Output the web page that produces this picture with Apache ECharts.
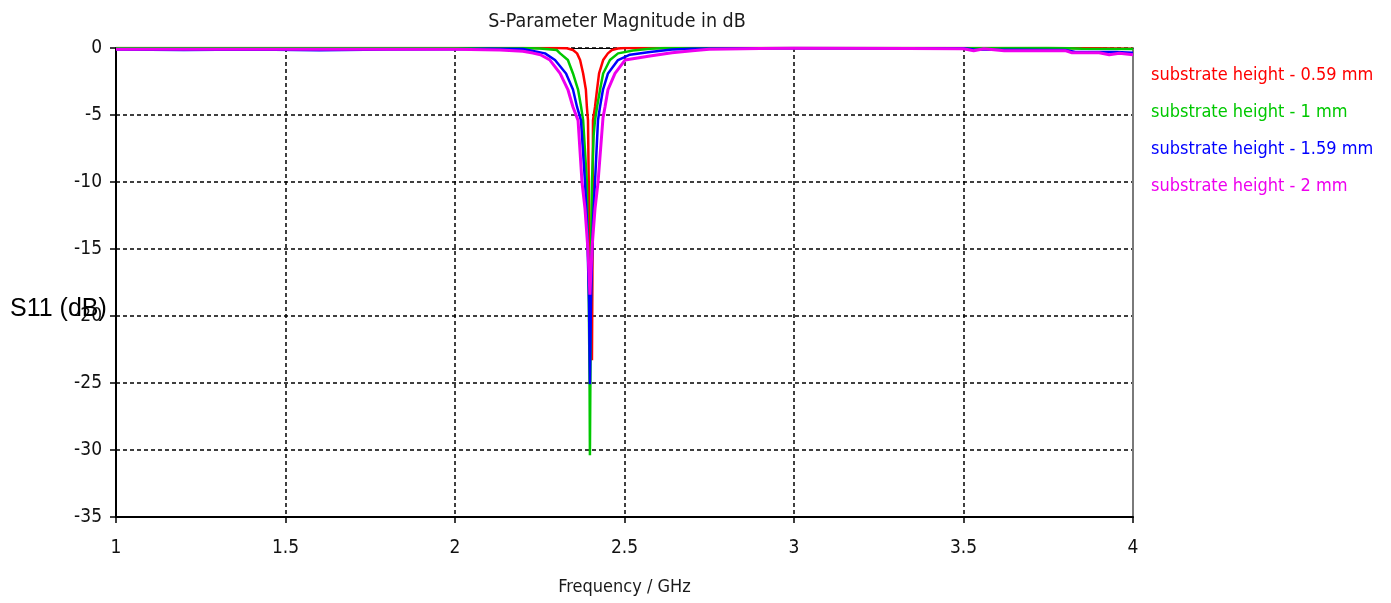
<!DOCTYPE html>
<html>
<head>
<meta charset="utf-8">
<title>S-Parameter Magnitude in dB</title>
<script src="https://cdn.jsdelivr.net/npm/echarts@6/dist/echarts.min.js"></script>
<style>
  html, body { margin: 0; padding: 0; background: #fff; }
  #chart { width: 1391px; height: 603px; }
</style>
</head>
<body>
<div id="chart"></div>
<script>
// S11 sweep results, [frequency GHz, magnitude dB], one array per substrate height
const seriesNames = [
  'substrate height - 0.59 mm',
  'substrate height - 1 mm',
  'substrate height - 1.59 mm',
  'substrate height - 2 mm'
];
const seriesColors = ['#ff0000', '#00c800', '#0000ff', '#ee00ee'];

const s11h059 = [
  [1.0, 0], [1.5, 0], [2.0, 0], [2.3, 0], [2.33, -0.02], [2.348, -0.15],
  [2.36, -0.4], [2.369, -0.9], [2.378, -1.9], [2.386, -3.1], [2.389, -4.4],
  [2.3923, -5.4], [2.395, -11], [2.400, -19], [2.404, -23.3], [2.406, -14],
  [2.407, -5.4], [2.413, -4.4], [2.419, -3.1], [2.425, -1.9], [2.437, -0.9],
  [2.451, -0.4], [2.463, -0.15], [2.48, -0.04], [2.5, 0], [3.0, 0],
  [3.5, 0], [3.9, -0.02], [4.0, -0.05]
];

const s11h100 = [
  [1.0, 0], [1.5, 0], [2.0, 0], [2.2, 0], [2.25, -0.03], [2.30, -0.15],
  [2.31, -0.4], [2.333, -0.9], [2.348, -1.9], [2.363, -3.1], [2.372, -4.4],
  [2.378, -5.4], [2.389, -10], [2.394, -17], [2.397, -25], [2.398, -30.4],
  [2.400, -22], [2.402, -14], [2.404, -10], [2.409, -6.5], [2.413, -5.4],
  [2.419, -4.4], [2.428, -3.1], [2.437, -1.9], [2.457, -0.9], [2.481, -0.4],
  [2.525, -0.18], [2.575, -0.05], [2.62, 0], [3.0, 0], [3.5, 0],
  [3.75, 0.04], [3.85, -0.05], [4.0, -0.08]
];

const s11h159 = [
  [1.0, -0.12], [1.2, -0.15], [1.4, -0.12], [1.6, -0.16], [1.8, -0.12],
  [2.0, -0.1], [2.1, -0.06], [2.2, -0.08], [2.23, -0.22], [2.2655, -0.4],
  [2.295, -0.9], [2.3275, -1.9], [2.348, -3.1], [2.36, -4.4], [2.3717, -5.4],
  [2.3835, -10], [2.3894, -13], [2.3953, -19], [2.398, -25.1], [2.401, -19],
  [2.407, -13], [2.413, -10], [2.4218, -5.4], [2.4277, -4.4], [2.4366, -3.1],
  [2.4513, -1.9], [2.4808, -0.9], [2.5162, -0.5], [2.575, -0.3], [2.64, -0.12],
  [2.7, -0.05], [3.0, 0], [3.5, -0.02], [3.53, -0.12], [3.8, -0.15],
  [3.83, -0.3], [3.95, -0.3], [4.0, -0.35]
];

const s11h200 = [
  [1.0, -0.1], [1.5, -0.1], [2.0, -0.1], [2.133, -0.15], [2.20, -0.25],
  [2.23, -0.38], [2.252, -0.5], [2.28, -0.9], [2.31, -1.9], [2.333, -3.1],
  [2.348, -4.4], [2.363, -5.4], [2.3746, -10], [2.3835, -12], [2.392, -15],
  [2.398, -18.4], [2.404, -15], [2.413, -12], [2.422, -10], [2.4366, -5.2],
  [2.4425, -4.4], [2.4513, -3.1], [2.472, -1.9], [2.5015, -0.9], [2.575, -0.6],
  [2.64, -0.35], [2.70, -0.2], [2.75, -0.1], [2.9, -0.03], [3.0, 0],
  [3.5, -0.05], [3.53, -0.2], [3.56, -0.05], [3.62, -0.2], [3.8, -0.2],
  [3.82, -0.35], [3.9, -0.35], [3.93, -0.5], [3.96, -0.4], [4.0, -0.5]
];

const seriesData = [s11h059, s11h100, s11h159, s11h200];
const seriesWidths = [2.5, 2.5, 2.5, 3];

const narrowFont = "'DejaVu Sans Condensed', 'Liberation Sans', sans-serif";
const gridDash = { color: '#000', width: 1.5, type: [4, 3] };

const chart = echarts.init(document.getElementById('chart'), null, { renderer: 'canvas' });

chart.setOption({
  animation: false,
  backgroundColor: '#fff',
  title: {
    text: 'S-Parameter Magnitude in dB',
    left: 612, top: 7, textAlign: 'center',
    textStyle: { fontFamily: narrowFont, fontSize: 19.5, fontWeight: 'normal', color: '#1a1a1a' }
  },
  legend: {
    orient: 'vertical',
    left: 1141, top: 61,
    itemWidth: 0, itemHeight: 0, itemGap: 19,
    icon: 'rect',
    selectedMode: false,
    data: seriesNames.map((n, i) => ({ name: n, textStyle: { color: seriesColors[i] } })),
    textStyle: { fontFamily: narrowFont, fontSize: 18 }
  },
  grid: { left: 116, right: 258, top: 48, bottom: 86, containLabel: false },
  xAxis: [{
    type: 'value', min: 1, max: 4, interval: 0.5,
    name: 'Frequency / GHz', nameLocation: 'middle', nameGap: 61,
    nameTextStyle: { fontFamily: narrowFont, fontSize: 18, color: '#1a1a1a' },
    axisLine: { onZero: false, lineStyle: { color: '#000', width: 2 } },
    axisTick: { show: true, length: 6, lineStyle: { color: '#000', width: 1.5 } },
    axisLabel: { margin: 22, fontFamily: narrowFont, fontSize: 19, color: '#111',
      formatter: v => String(v) },
    splitLine: { show: true, lineStyle: gridDash }
  }, {
    type: 'value', position: 'top', min: 1, max: 4,
    axisLine: { onZero: false, lineStyle: { color: '#000', width: 1 } },
    axisTick: { show: false }, axisLabel: { show: false }, splitLine: { show: false }
  }],
  yAxis: [{
    type: 'value', min: -35, max: 0, interval: 5,
    axisLine: { show: true, onZero: false, lineStyle: { color: '#000', width: 2 } },
    axisTick: { show: true, length: 6, lineStyle: { color: '#000', width: 1.5 } },
    axisLabel: { margin: 14, fontFamily: narrowFont, fontSize: 19, color: '#111',
      verticalAlign: 'middle', padding: [4, 0, 0, 0] },
    splitLine: { show: true, lineStyle: gridDash }
  }, {
    type: 'value', position: 'right', min: -35, max: 0,
    axisLine: { show: true, onZero: false, lineStyle: { color: '#7a7a7a', width: 2 } },
    axisTick: { show: false }, axisLabel: { show: false }, splitLine: { show: false }
  }],
  graphic: [{
    type: 'text', left: 10, top: 297, z: 100,
    style: { text: 'S11 (dB)', font: "25px 'Liberation Sans', sans-serif", fill: '#000' }
  }],
  series: seriesData.map((d, i) => ({
    name: seriesNames[i],
    type: 'line',
    data: d,
    xAxisIndex: 0, yAxisIndex: 0,
    showSymbol: false,
    smooth: false,
    lineStyle: { color: seriesColors[i], width: seriesWidths[i] },
    itemStyle: { color: seriesColors[i] },
    emphasis: { disabled: true }
  }))
});
</script>
</body>
</html>
